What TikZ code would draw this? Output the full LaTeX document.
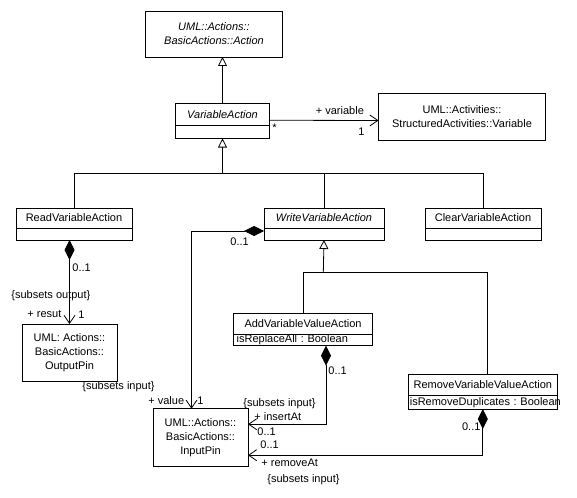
\documentclass[tikz,border=0pt]{standalone}
\usepackage{fontspec}
\setmainfont{Liberation Sans}
\usetikzlibrary{positioning,arrows.meta}

\begin{document}
\frenchspacing
\begin{tikzpicture}[
      x=1pt, y=-1pt,
      line width=0.8pt,
      every node/.style={font=\fontsize{11}{14}\selectfont},
      classbox/.style={
        draw,
        fill=white,
        outer sep=0pt,
        inner sep=2pt,
        align=center
      },
      compbox/.style={
        draw,
        fill=white,
        outer sep=0pt,
        inner xsep=1.5pt,
        inner ysep=0pt,
        align=left
      },
      abstract/.style={font=\fontsize{11}{14}\selectfont\itshape},
      lbl/.style={anchor=west, inner sep=0pt},
      gen/.style={-{Triangle[open,length=9pt,width=9pt]}},
      nav/.style={-{Straight Barb[length=8pt,width=11pt]}},
      comp/.style={{Diamond[length=20pt,width=10pt]}-{Straight Barb[length=8pt,width=11pt]}}
    ]
      \useasboundingbox[fill=white] (0,0) rectangle (577,497);

      % classes
      \node[classbox,abstract,minimum width=137pt,minimum height=46pt] (action) at (214,34)
        {UML::Actions::\\BasicActions::Action};
      \node[classbox,abstract,anchor=north,minimum width=94pt,minimum height=22.5pt] (varaction) at (222.5,103)
        {VariableAction};
      \node[compbox,below=0pt of varaction,minimum width=94pt,minimum height=13pt] (vacomp) {};
      \node[classbox,minimum width=167pt,minimum height=47pt] (varbox) at (462,116.5)
        {UML::Activities::\\StructuredActivities::Variable};

      \node[classbox,anchor=north,minimum width=116pt,minimum height=20pt] (readvar) at (74,208)
        {ReadVariableAction};
      \node[compbox,below=0pt of readvar,minimum width=116pt,minimum height=12pt] (readcomp) {};
      \node[classbox,abstract,anchor=north,minimum width=120pt,minimum height=20pt] (writevar) at (324,208)
        {WriteVariableAction};
      \node[compbox,below=0pt of writevar,minimum width=120pt,minimum height=12pt] (writecomp) {};
      \node[classbox,anchor=north,minimum width=116pt,minimum height=20pt] (clearvar) at (483,208)
        {ClearVariableAction};
      \node[compbox,below=0pt of clearvar,minimum width=116pt,minimum height=12pt] (clearcomp) {};

      \node[classbox,anchor=north,minimum width=139.4pt,minimum height=21pt] (addvar) at (303,313.3)
        {AddVariableValueAction};
      \node[compbox,below=0pt of addvar,text width=136.4pt,minimum height=11.4pt] (addcomp)
        {\,isReplaceAll : Boolean};
      \node[classbox,anchor=north,minimum width=149pt,minimum height=21.4pt] (remvar) at (482.8,374.3)
        {RemoveVariableValueAction};
      \node[compbox,below=0pt of remvar,text width=146pt,minimum height=13.3pt] (remcomp)
        {\mbox{isRemoveDuplicates : Boolean}};

      \node[classbox,minimum width=95pt,minimum height=57pt] (outpin) at (69.5,352.5)
        {UML: Actions::\\BasicActions::\\OutputPin};
      \node[classbox,minimum width=95pt,minimum height=58pt] (inpin) at (200.5,437.7)
        {UML::Actions::\\BasicActions::\\InputPin};

      % generalizations
      \coordinate (hub) at (222.5,173.4);
      \coordinate (hubb) at (323.3,272.3);
      \draw[gen] (varaction.north) -- (varaction.north |- action.south);
      \draw[gen] (hub) -- (vacomp.south);
      \draw (readvar.north) |- (hub) -| (clearvar.north);
      \draw (writevar.north) -- (writevar.north |- hub);
      \draw[gen] (hubb) -- (writecomp.south);
      \draw (addvar.north) |- (hubb) -| ([xshift=4.5pt]remvar.north);

      % associations
      \draw[nav] ([yshift=-6pt]varaction.east) -- ([yshift=-4pt]varbox.west);
      \draw[comp] (readcomp.south -| outpin.north) -- (outpin.north);
      \draw[comp] ([yshift=3pt]writecomp.west) -| ([xshift=-9pt]inpin.north);
      \draw[comp] ([xshift=23pt]addcomp.south) |- ([yshift=13.5pt]inpin.east);
      \draw[comp] (remcomp.south) |- ([yshift=-17.5pt]inpin.east);

      % ends
      \node[lbl] (varrole) at (315.5,110.4) {+ variable};
      \node[lbl] (varone) at (358,131.4) {1};
      \node[lbl] (varmany) at (272,128) {*};
      \node[lbl] (readmult) at (72,267.7) {0..1};
      \node[lbl] (readsub) at (11,296) {\{subsets output\}};
      \node[lbl] (readrole) at (27,314.3) {+ resut};
      \node[lbl] (readone) at (78,314.3) {1};
      \node[lbl] (outsub) at (82,387) {\{subsets input\}};
      \node[lbl] (writemult) at (230,241.7) {0..1};
      \node[lbl] (valrole) at (148,401) {+ value};
      \node[lbl] (valone) at (197,401) {1};
      \node[lbl] (inssub) at (243,403.3) {\{subsets input\}};
      \node[lbl] (insrole) at (254,416.7) {+ insertAt};
      \node[lbl] (insmult) at (257,432) {0..1};
      \node[lbl] (remmult) at (260,444.3) {0..1};
      \node[lbl] (remrole) at (261,462.3) {+ removeAt};
      \node[lbl] (remsub) at (267,480) {\{subsets input\}};
      \node[lbl] (addmult) at (328,370.7) {0..1};
      \node[lbl] (remmultb) at (461.7,426.7) {0..1};
    \end{tikzpicture}
\end{document}
